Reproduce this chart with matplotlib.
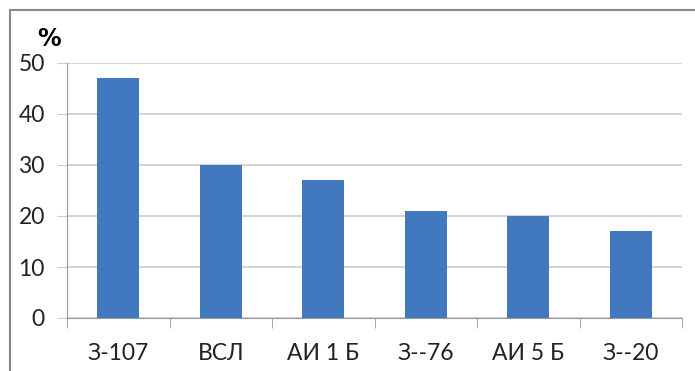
import numpy as np
import matplotlib.pyplot as plt
from matplotlib.patches import Rectangle

categories = ["З-107", "ВСЛ", "АИ 1 Б", "З--76", "АИ 5 Б", "З--20"]
values = [47, 30, 27, 21, 20, 17]
yticks = [0, 10, 20, 30, 40, 50]

plt.rcParams['font.family'] = ['Lato', 'DejaVu Sans']

fig = plt.figure(figsize=(6.95, 3.71), dpi=100)
ax = fig.add_axes([67 / 695, 1 - 318 / 371, 615 / 695, 255 / 371])

x = np.arange(len(categories))
ax.bar(x, values, width=0.41, color='#4178be', zorder=3)

ax.set_xlim(-0.5, len(categories) - 0.5)
ax.set_ylim(0, 50)
ax.set_yticks(yticks)
ax.set_yticklabels([str(t) for t in yticks], fontsize=16.5, color='#222222')
ax.yaxis.grid(True, color='#cccccc', linewidth=1.2, zorder=0)
ax.tick_params(axis='y', length=7, color='#cccccc', pad=9)

# category labels in the middle, tick marks on the boundaries
ax.set_xticks(x)
ax.set_xticklabels(categories, fontsize=16.5, color='#222222')
ax.tick_params(axis='x', length=0, pad=18)
ax.set_xticks(np.arange(-0.5, len(categories)), minor=True)
ax.tick_params(axis='x', which='minor', length=7, color='#999999')

for side in ['top', 'right']:
    ax.spines[side].set_visible(False)
ax.spines['left'].set_color('#999999')
ax.spines['bottom'].set_color('#999999')

fig.text(37 / 695, 1 - 39 / 371, '%', fontsize=17, fontweight='bold',
         family='DejaVu Sans', va='center')

# outer frame of the chart area
fig.patches.append(Rectangle((10 / 695, -0.1), 1.2, 1 - 10 / 371 + 0.1,
                             transform=fig.transFigure, fill=False,
                             edgecolor='#888888', linewidth=1.5))

fig.savefig('out.png', dpi=100)
